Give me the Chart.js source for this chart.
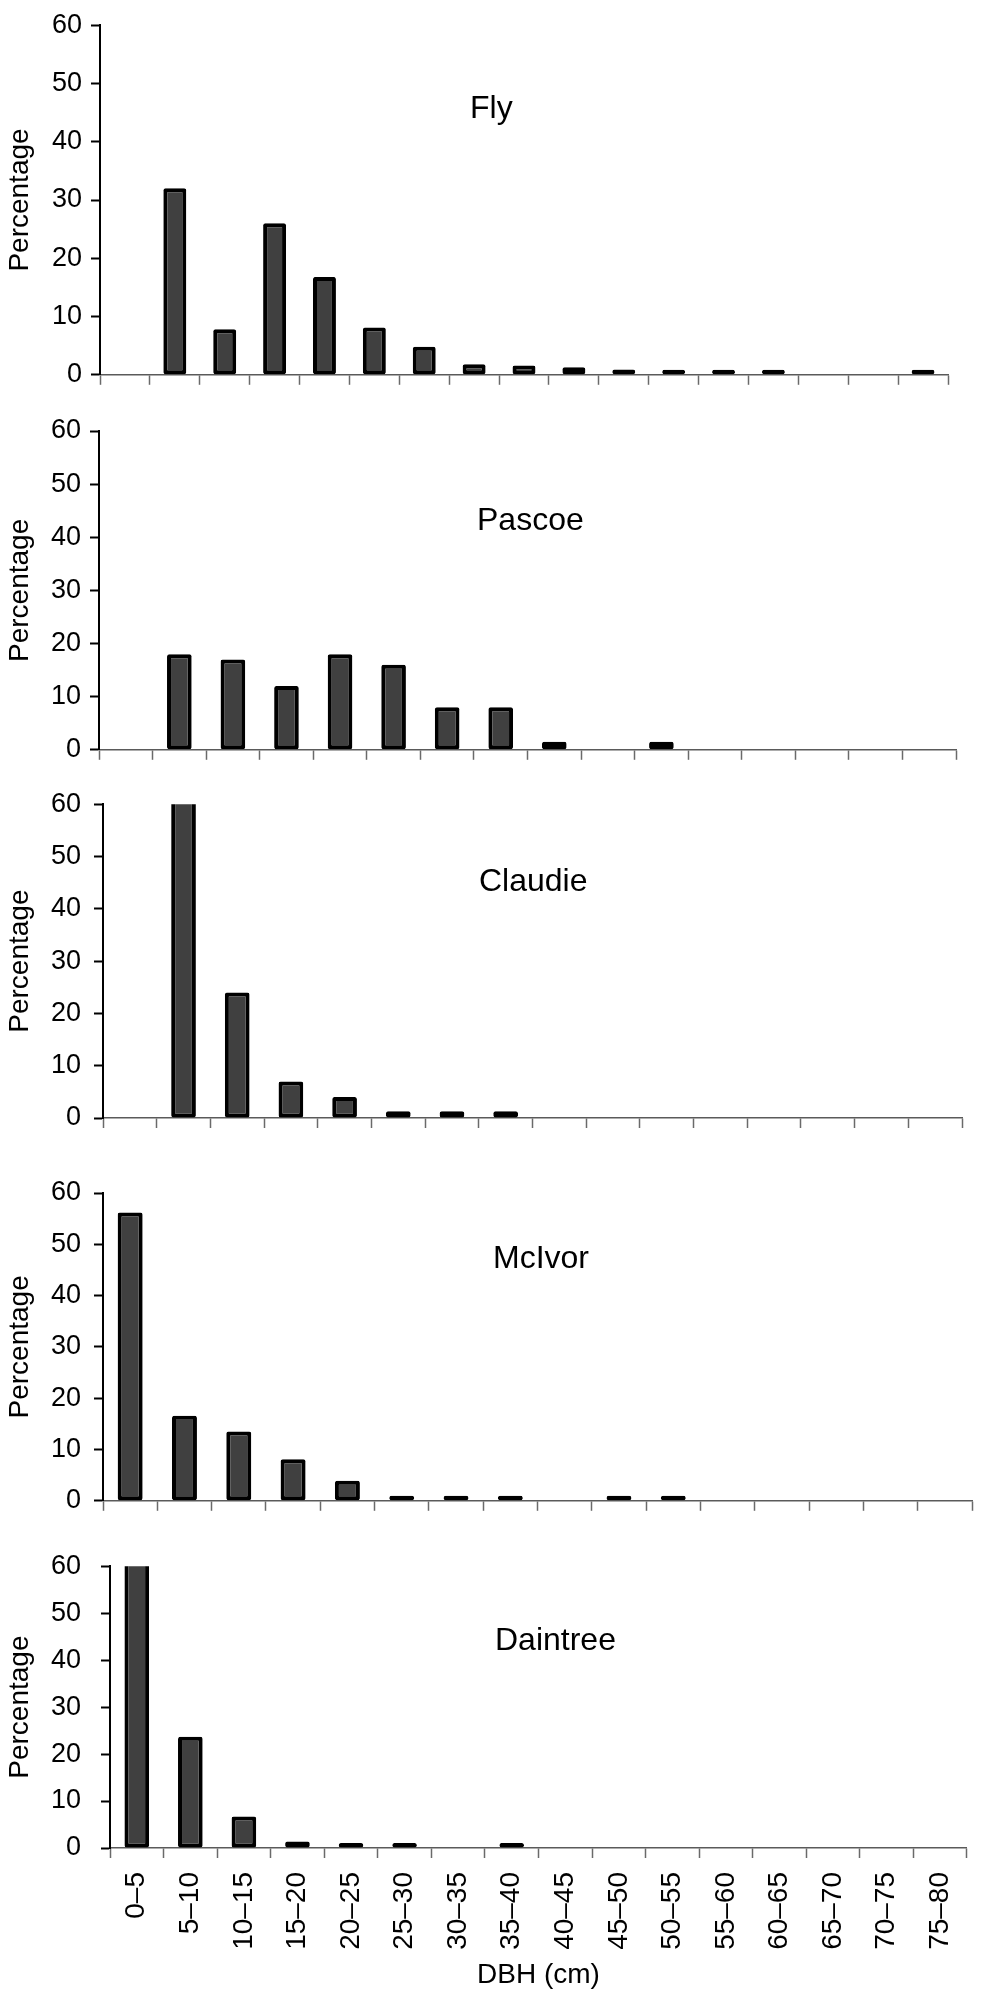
<!DOCTYPE html>
<html>
<head>
<meta charset="utf-8">
<script src="https://cdn.jsdelivr.net/npm/chart.js@4.4.0/dist/chart.umd.min.js"></script>
<style>
html,body{margin:0;padding:0;background:#fff;}
#wrap{position:relative;width:988px;height:2003px;overflow:hidden;background:#fff;}
#wrap canvas{position:absolute;left:0;}
.ttl{position:absolute;font-family:'Liberation Sans',Arial,sans-serif;font-size:32px;line-height:32px;color:#000;white-space:nowrap;}
</style>
</head>
<body>
<div id="wrap"></div>
<script>
// ---- data ----
const dbhClasses = ['0–5','5–10','10–15','15–20','20–25','25–30','30–35','35–40','40–45','45–50','50–55','55–60','60–65','65–70','70–75','75–80'];
const flyClasses = ['0–5','5–10','10–15','15–20','20–25','25–30','30–35','35–40','40–45','45–50','50–55','55–60','60–65','65–70','70–75','75–80','80–85'];
const siteNames = ['Fly','Pascoe','Claudie','McIvor','Daintree'];
const yTicks = [0,10,20,30,40,50,60];
const flyValues      = [null,32,7.8,26,16.8,8.1,4.8,1.8,1.6,1.3,0.9,0.4,0.3,0.3,null,null,0.3];
const pascoeValues   = [null,18,17,12,18,16,8,8,1.5,null,1.5,null,null,null,null,null];
const claudieValues  = [null,62,24,7,4,1.3,1.3,1.3,null,null,null,null,null,null,null,null];
const mcivorValues   = [56.2,16.6,13.5,8.1,3.9,1,0.8,0.3,null,0.3,0.3,null,null,null,null,null];
const daintreeValues = [67,23.7,6.7,1.4,0.5,0.5,null,0.3,null,null,null,null,null,null,null,null];
const xTitle = 'DBH (cm)';
const yTitle = 'Percentage';

// ---- layout (page pixels) ----
const FONT = "'Liberation Sans', Arial, sans-serif";
const panels = [
  {labels:flyClasses, values:flyValues,      top:0,    bottom:400,  L:100, R:948, pT:21,   pB:378,  tickPad:9,  tx:470, ty:91,   showX:false},
  {labels:dbhClasses, values:pascoeValues,   top:400,  bottom:775,  L:99,  R:956, pT:431,  pB:750,  tickPad:9,  tx:477, ty:503,  showX:false},
  {labels:dbhClasses, values:claudieValues,  top:775,  bottom:1150, L:103, R:962, pT:803,  pB:1118, tickPad:13, tx:479, ty:864,  showX:false},
  {labels:dbhClasses, values:mcivorValues,   top:1150, bottom:1530, L:103, R:972, pT:1193, pB:1503, tickPad:13, tx:493, ty:1241, showX:false},
  {labels:dbhClasses, values:daintreeValues, top:1530, bottom:2003, L:110, R:981, pT:1557, pB:1848, tickPad:20, tx:495, ty:1623, showX:true}
];

const wrap = document.getElementById('wrap');

panels.forEach((p, i) => {
  const cv = document.createElement('canvas');
  const h = p.bottom - p.top;
  cv.width = 988; cv.height = h;
  cv.style.width = '988px'; cv.style.height = h + 'px';
  cv.style.top = p.top + 'px';
  wrap.appendChild(cv);

  const t = document.createElement('div');
  t.className = 'ttl';
  t.style.left = p.tx + 'px';
  t.style.top = p.ty + 'px';
  t.textContent = siteNames[i];
  wrap.appendChild(t);

  const xHeight = h - (p.pB - p.top);

  new Chart(cv, {
    type: 'bar',
    data: {
      labels: p.labels,
      datasets: [{
        data: p.values,
        backgroundColor: '#404040',
        borderColor: '#000000',
        borderWidth: 4,
        borderSkipped: false,
        borderRadius: 2,
        barPercentage: 0.46,
        categoryPercentage: 1,
        minBarLength: 5,
        clip: 0
      }]
    },
    options: {
      responsive: false,
      animation: false,
      devicePixelRatio: 1,
      layout: {padding: {left: 0, right: 988 - p.R, top: p.pT - p.top, bottom: 0}},
      plugins: {legend: {display: false}, tooltip: {enabled: false}, title: {display: false}},
      scales: {
        x: {
          offset: true,
          grid: {display: true, offset: true, drawOnChartArea: false, drawTicks: true, tickLength: 10, tickColor: '#6a6a6a', tickWidth: 1.5},
          border: {display: true, color: '#5a5a5a', width: 1.5},
          ticks: {display: p.showX, autoSkip: false, minRotation: 90, maxRotation: 90, padding: 14, color: '#000', font: {family: FONT, size: 28}},
          title: {display: p.showX, text: xTitle, color: '#000', font: {family: FONT, size: 28}, padding: {top: 0, bottom: 11}},
          afterFit: (s) => { s.height = xHeight; }
        },
        y: {
          min: yTicks[0],
          max: yTicks[yTicks.length - 1],
          afterBuildTicks: (s) => { s.ticks = yTicks.map(v => ({value: v})); },
          ticks: {padding: p.tickPad, color: '#000', font: {family: FONT, size: 27}},
          grid: {display: true, drawOnChartArea: false, drawTicks: true, tickLength: 9, tickColor: '#000', tickWidth: 2},
          border: {display: true, color: '#000', width: 2},
          title: {display: true, text: yTitle, color: '#000', font: {family: FONT, size: 28}, padding: {top: 3, bottom: 0}},
          afterFit: (s) => { s.width = p.L; }
        }
      }
    }
  });
});
</script>
</body>
</html>
